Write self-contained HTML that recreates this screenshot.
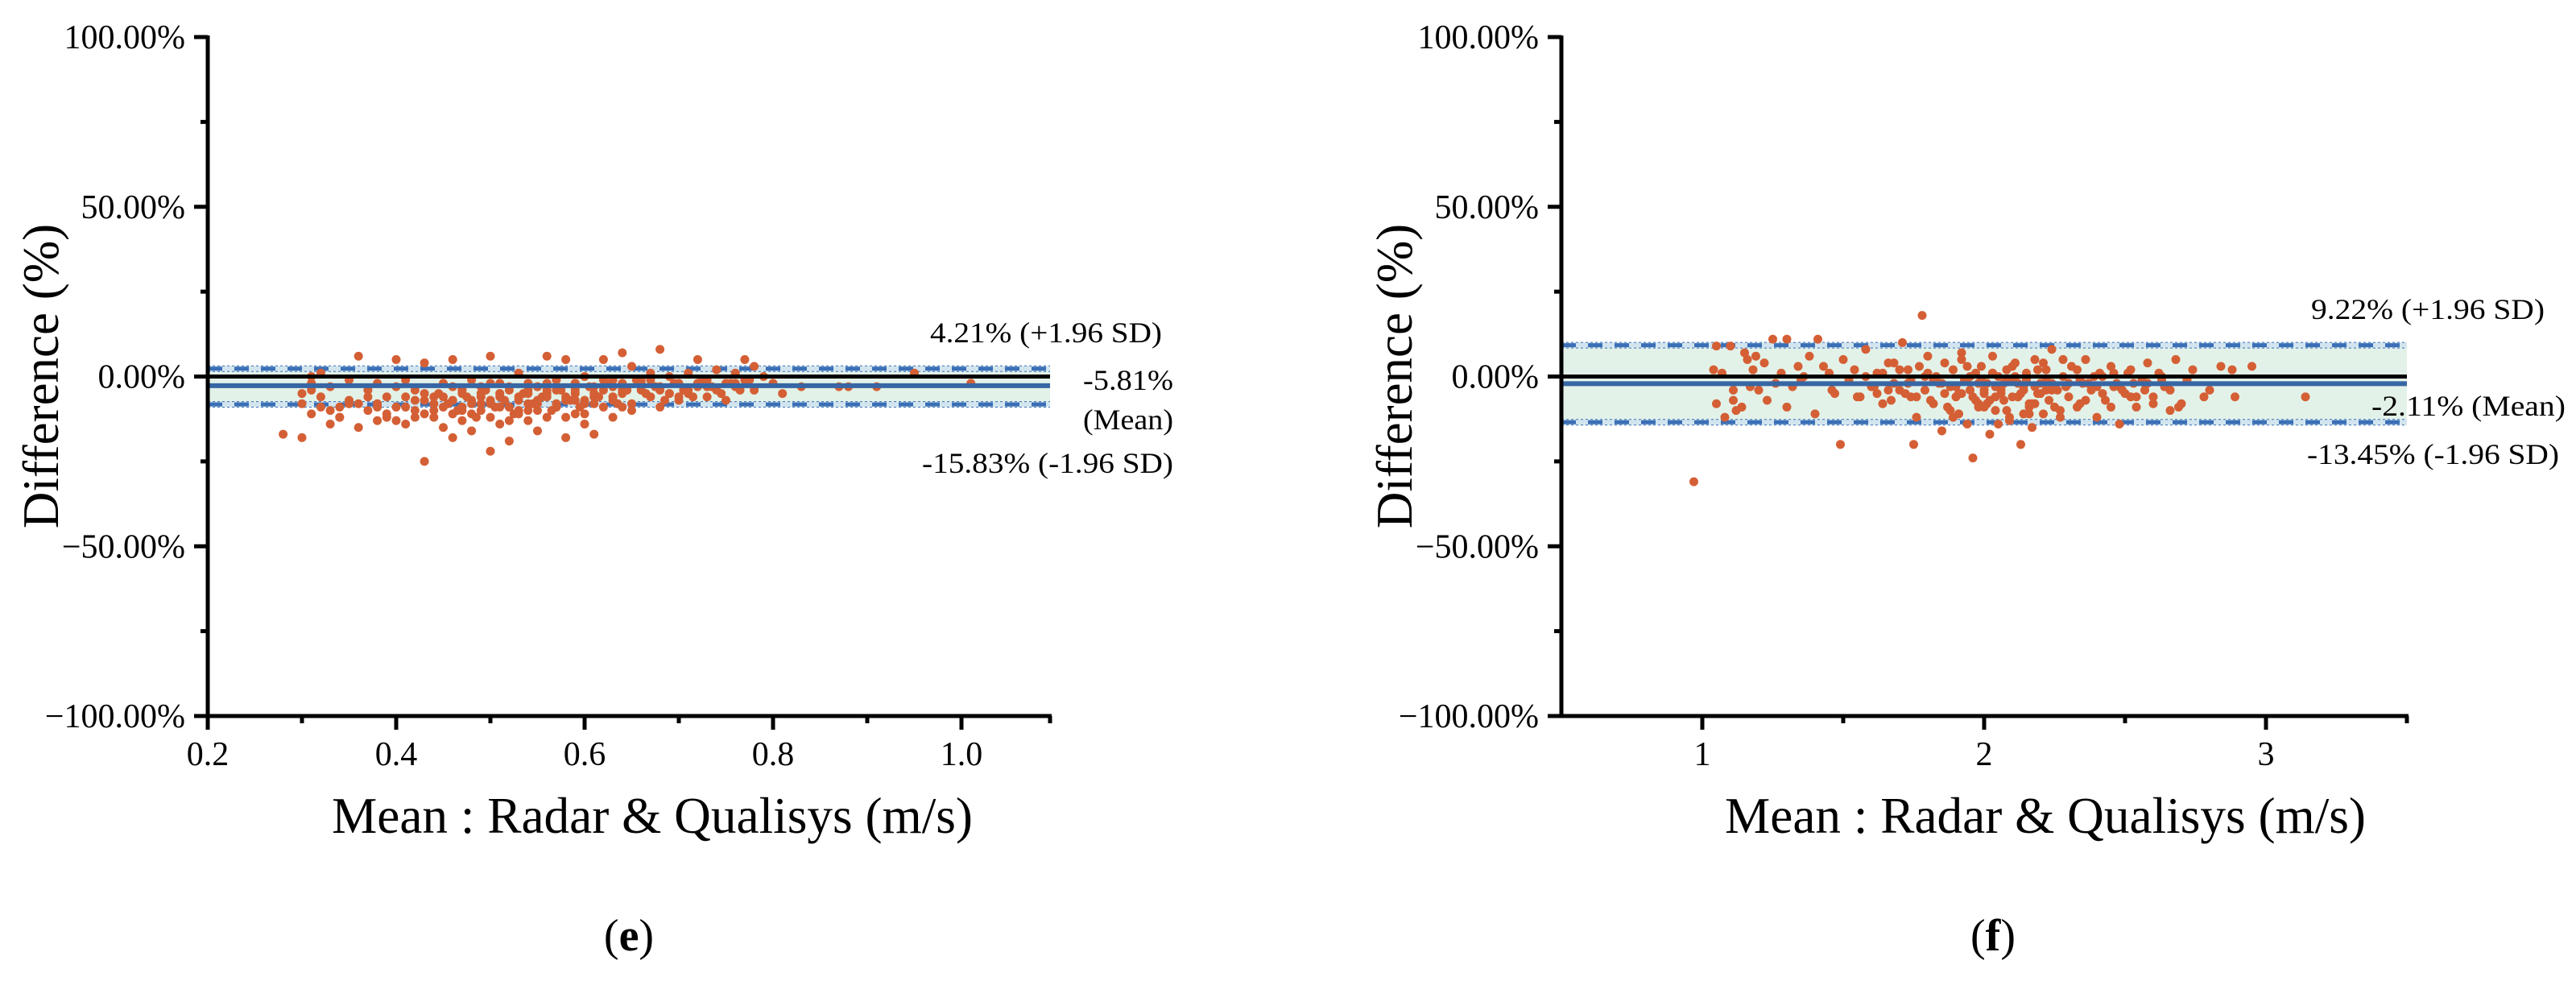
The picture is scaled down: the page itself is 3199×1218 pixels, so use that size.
<!DOCTYPE html>
<html><head><meta charset="utf-8"><style>
html,body{margin:0;padding:0;background:#fff;}
svg{display:block;font-family:"Liberation Serif",serif;}
</style></head><body>
<svg id="fig" width="3199" height="1218" viewBox="0 0 3199 1218" xmlns="http://www.w3.org/2000/svg">
<rect width="3199" height="1218" fill="#fff"/>
<g id="panelE"></g>
<g id="panelF"></g>
</svg>
<script>
// ---- Panel (e) data ----
const eX = [0.28,0.30,0.30,0.30,0.31,0.31,0.31,0.32,0.32,0.33,0.33,0.34,0.34,0.35,0.35,0.36,0.36,0.37,0.37,0.38,0.38,0.39,0.39,0.40,0.40,0.40,0.41,0.41,0.42,0.42,0.43,0.43,0.43,0.44,0.44,0.45,0.45,0.45,0.46,0.46,0.46,0.47,0.47,0.47,0.48,0.48,0.48,0.49,0.49,0.49,0.50,0.50,0.50,0.50,0.51,0.51,0.51,0.52,0.52,0.52,0.53,0.53,0.53,0.54,0.54,0.54,0.55,0.55,0.55,0.56,0.56,0.56,0.57,0.57,0.57,0.58,0.58,0.58,0.59,0.59,0.59,0.60,0.60,0.60,0.61,0.61,0.61,0.62,0.62,0.62,0.63,0.63,0.63,0.64,0.64,0.64,0.65,0.65,0.65,0.66,0.66,0.67,0.67,0.68,0.68,0.68,0.69,0.69,0.70,0.70,0.71,0.71,0.72,0.72,0.73,0.73,0.74,0.74,0.75,0.75,0.76,0.76,0.77,0.77,0.78,0.78,0.79,0.80,0.81,0.83,0.87,0.88,0.91,0.95,1.01,
0.44,0.46,0.47,0.48,0.49,0.50,0.51,0.52,0.53,0.54,0.55,0.56,0.57,0.58,0.59,0.60,0.61,0.62,0.63,0.64,0.45,0.47,0.49,0.51,0.53,0.55,0.57,0.59,0.61,0.63,0.66,0.69,0.72,0.35,0.38,0.41,0.42,0.52,0.54,0.56,
0.31,0.33,0.36,0.39,0.41,0.43,0.445,0.455,0.465,0.475,0.485,0.495,0.505,0.515,0.525,0.535,0.545,0.555,0.565,0.575,0.585,0.595,0.605,0.615,0.625,0.635,0.645,0.655,0.665,0.675,0.685,0.695,0.705,0.715,0.725,0.735,0.745,0.755,0.765,0.775,
0.34,0.37,0.40,0.42,0.44,0.46,0.48,0.50,0.52,0.54,0.56,0.58,0.60,0.62,0.64,0.66,0.68,0.70,0.73,0.76,0.32,0.38,0.43,0.47,0.51,0.55,0.59,0.63,0.67,0.71];
const eY = [-17,-18,-5,-8,-11,0,-2,1,-6,-14,-3,-9,-12,-1,-7,-15,6,-4,-10,-2,-13,-6,-11,-3,5,-9,-14,-1,-7,-12,-5,4,-25,-10,-8,-2,-15,-6,-11,-18,5,-4,-9,-13,-7,-1,-16,-5,-10,-3,-12,-22,6,-8,-6,-14,-2,-9,-4,-19,-7,-11,1,-5,-13,-8,-3,-10,-16,-6,6,-12,-4,-9,-1,-7,-18,5,-5,-11,-2,-8,-14,0,-6,-3,-17,-9,5,-4,-7,-1,-12,-5,7,-2,-8,3,-10,-4,-1,-6,1,-3,8,-9,-5,0,-2,-7,-4,1,5,-3,-6,-1,2,-4,-2,-7,1,-3,5,-1,3,-4,0,-2,-5,-3,-3,-3,-3,1,-2,
-6,-7,-5,-8,-6,-7,-5,-9,-6,-4,-7,-5,-8,-6,-4,-7,-5,-3,-6,-4,-9,-10,-8,-9,-10,-8,-9,-7,-8,-6,-3,-5,-2,-8,-9,-6,-10,-3,-2,-4,
-4,-10,-8,-12,-9,-11,-5,-8,-10,-6,-12,-4,-9,-7,-11,-5,-8,-6,-10,-4,-7,-9,-3,-6,-2,-8,-4,-1,-5,-3,-7,-2,-4,-6,-1,-3,-5,-2,-4,-1,
-12,-6,-13,-4,-12,-3,-11,-2,-13,-10,-2,-12,-11,-1,-9,-2,-4,-6,-3,-2,-9,-8,-7,-4,-5,-3,-2,-3,-1,-5];
const eTicksX = [0.2,0.4,0.6,0.8,1.0];
const eTickLabelsX = ["0.2","0.4","0.6","0.8","1.0"];
const eLimits = [2.3, -2.7, -8.2]; // plotted upper, mean, lower lines
const eLabels = ["4.21% (+1.96 SD)","-5.81%","(Mean)","-15.83% (-1.96 SD)"];

// ---- Panel (f) data ----
const fX = [0.97,1.04,1.05,1.05,1.07,1.08,1.10,1.11,1.11,1.12,1.14,1.16,1.17,1.18,1.19,1.20,1.22,1.25,1.26,1.28,1.30,1.30,1.32,1.34,1.36,1.38,1.40,1.41,1.43,1.45,1.46,1.49,1.50,1.52,1.54,1.56,1.58,1.60,1.62,1.64,1.66,1.68,1.70,1.71,1.72,1.74,1.75,1.76,1.77,1.78,1.79,1.80,1.81,1.83,1.84,1.85,1.86,1.87,1.88,1.89,1.90,1.91,1.92,1.93,1.94,1.95,1.96,1.97,1.98,1.99,2.00,2.01,2.02,2.03,2.04,2.05,2.06,2.07,2.08,2.09,2.10,2.11,2.12,2.13,2.14,2.15,2.16,2.17,2.18,2.19,2.20,2.21,2.22,2.23,2.24,2.25,2.27,2.28,2.30,2.31,2.33,2.34,2.36,2.38,2.40,2.41,2.43,2.45,2.47,2.48,2.50,2.52,2.54,2.56,2.58,2.60,2.62,2.64,2.66,2.68,2.70,2.72,2.74,2.78,2.80,2.84,2.88,2.89,2.95,3.14,
1.90,1.92,1.94,1.96,1.98,2.00,2.02,2.04,2.06,2.08,2.10,2.12,2.14,2.16,2.18,2.20,2.22,2.24,2.26,2.29,1.95,1.99,2.03,2.07,2.11,2.15,2.19,2.23,2.35,2.42,1.62,1.66,1.73,1.82,2.46,2.53,2.57,2.63,
1.55,1.58,1.61,1.64,1.67,1.70,1.73,1.76,1.79,1.82,1.85,1.88,1.91,1.94,1.97,2.00,2.03,2.06,2.09,2.12,2.15,2.18,2.21,2.24,2.27,2.30,2.33,2.36,2.39,2.42,2.45,2.48,2.51,2.54,2.57,2.60,2.63,2.66,2.69,2.72,
1.68,1.74,1.80,1.86,1.92,1.98,2.04,2.10,2.16,2.22,2.28,2.34,2.40,2.46,2.52,2.58,1.89,2.01,2.13,2.25,2.37,2.49,1.15,1.23,1.35,1.47,2.05,2.17,2.08,2.14];
const fY = [-31,2,-8,9,1,-12,9,-7,-4,-10,-9,5,-3,2,6,-4,4,11,-2,1,11,-9,-3,3,0,6,-11,11,3,1,-4,-20,5,-1,2,-6,8,-3,1,-8,4,-2,2,10,-5,-1,-20,-12,3,18,-4,6,-7,0,-2,-16,4,-9,-3,2,-6,-11,5,-1,-14,-4,-24,1,-8,3,-5,-2,-17,6,-10,0,-4,-7,2,-13,-1,4,-6,-20,-3,1,-9,-15,5,-5,-2,-11,2,-7,8,-3,-12,0,-6,3,-9,-1,5,-4,-12,1,-7,3,-2,-14,-5,2,-9,-1,4,-6,1,-3,-10,5,-8,-1,2,-6,-4,3,2,-6,3,-6,
-3,-5,-1,-6,-2,-4,-7,-3,-5,-1,-6,-2,-4,-8,-3,-5,-1,-2,-4,-3,0,-1,1,-2,0,-1,2,-3,-2,0,-5,-4,-2,-1,-3,-2,-4,-1,
-6,0,-3,1,-7,-4,2,-6,0,-8,-2,-10,-5,3,-7,-9,1,-3,-12,-6,-1,-8,4,-4,-10,-2,2,-7,0,-5,-9,-3,1,-6,-2,-8,0,-4,-9,-1,
4,-6,1,-5,7,-9,-6,3,-11,-4,5,-8,-3,1,-6,-2,-12,-8,-5,-9,-2,-4,7,-7,-1,-5,-14,-8,-10,-11];
const fTicksX = [1,2,3];
const fTickLabelsX = ["1","2","3"];
const fLimits = [9.22, -2.11, -13.45];
const fLabels = ["9.22% (+1.96 SD)","-2.11% (Mean)","-13.45% (-1.96 SD)"];

const yTicks = [100,50,0,-50,-100];
const yTickLabels = ["100.00%","50.00%","0.00%","\u221250.00%","\u2212100.00%"];
const yMinor = [75,25,-25,-75];

const NS = "http://www.w3.org/2000/svg";
function mk(parent, tag, attrs){
  const el = document.createElementNS(NS, tag);
  for (const k in attrs) el.setAttribute(k, attrs[k]);
  parent.appendChild(el);
  return el;
}
const yS = p => 467.5 - p * 4.215;

function panel(g, cfg){
  const {x0, x1, xs, X, Y, ticks, tickLabels, minors, limits} = cfg;
  const yu = yS(limits[0]), yl = yS(limits[2]);
  const band = mk(g,'rect',{x:x0,y:yu-3.5,width:x1-x0,height:yl-yu+7,fill:'#e3f2e8'});
  
  
  [yu,yl].forEach((yy,i)=>{
    const s = mk(g,'rect',{x:x0,y:yy-3.5,width:x1-x0,height:7,fill:'#d2e5ef'});
    
    
    mk(g,'line',{x1:x0,x2:x1,y1:yy-3.5,y2:yy-3.5,stroke:'#3b6fb6','stroke-width':1,'stroke-dasharray':'3 3'});
    mk(g,'line',{x1:x0,x2:x1,y1:yy+3.5,y2:yy+3.5,stroke:'#3b6fb6','stroke-width':1,'stroke-dasharray':'3 3'});
    const l = mk(g,'line',{x1:x0,x2:x1,y1:yy,y2:yy,stroke:'#3b6fb6','stroke-width':5,'stroke-dasharray':'18 15'});
    
    
  });
  for (let i=0;i<X.length;i++){
    const c = mk(g,'circle',{cx:xs(X[i]),cy:yS(Y[i]),r:5.5,fill:'#d45f35'});
    
    
  }
  const z = mk(g,'line',{x1:x0,x2:x1,y1:yS(0),y2:yS(0),stroke:'#000','stroke-width':5});
  
  
  const m = mk(g,'line',{x1:x0,x2:x1,y1:yS(limits[1]),y2:yS(limits[1]),stroke:'#3766a4','stroke-width':6});
  
  
  const ya = mk(g,'line',{x1:x0,x2:x0,y1:44,y2:891,stroke:'#000','stroke-width':5});
  
  
  const xa = mk(g,'line',{x1:x0-2,x2:x1+2,y1:889,y2:889,stroke:'#000','stroke-width':5});
  
  
  yTicks.forEach((v,i)=>{
    mk(g,'line',{x1:x0-17,x2:x0,y1:yS(v),y2:yS(v),stroke:'#000','stroke-width':5});
    const t = mk(g,'text',{x:x0-28,y:yS(v)+14,'font-size':42,'text-anchor':'end',fill:'#000'});
    t.textContent = yTickLabels[i];
    
    
  });
  yMinor.forEach(v=>mk(g,'line',{x1:x0-9,x2:x0,y1:yS(v),y2:yS(v),stroke:'#000','stroke-width':5}));
  minors.forEach(v=>mk(g,'line',{x1:xs(v),x2:xs(v),y1:889,y2:898,stroke:'#000','stroke-width':5}));
  ticks.forEach((v,i)=>{
    mk(g,'line',{x1:xs(v),x2:xs(v),y1:889,y2:906,stroke:'#000','stroke-width':5});
    const t = mk(g,'text',{x:xs(v),y:950,'font-size':42,'text-anchor':'middle',fill:'#000'});
    t.textContent = tickLabels[i];
    
    
  });
  mk(g,'line',{x1:x1,x2:x1,y1:889,y2:898,stroke:'#000','stroke-width':5});
  const yt = mk(g,'text',{x:0,y:0,'font-size':63,'text-anchor':'middle',fill:'#000',transform:`translate(${x0-186},467) rotate(-90)`});
  yt.textContent = 'Difference (%)';
  
  
  const xt = mk(g,'text',{x:cfg.xTitleX,y:1034,'font-size':64,'text-anchor':'middle',fill:'#000',textLength:796,lengthAdjust:'spacingAndGlyphs'});
  xt.textContent = 'Mean : Radar & Qualisys (m/s)';
  
  
  const sub = mk(g,'text',{x:cfg.subX,y:1180,'font-size':56,'text-anchor':'middle',fill:'#000'});
  sub.innerHTML = '(<tspan font-weight="bold">'+cfg.sub+'</tspan>)';
  
  
}

const xE = v => 258 + (v - 0.2) * 1170;
const xF = v => 1939 + (v - 0.5) * 350;
const gE = document.getElementById('panelE');
const gF = document.getElementById('panelF');
panel(gE,{x0:258,x1:1304,xs:xE,X:eX,Y:eY,ticks:eTicksX,tickLabels:eTickLabelsX,
  minors:[0.3,0.5,0.7,0.9],limits:eLimits,xTitleX:810,subX:781,sub:'e'});
panel(gF,{x0:1939,x1:2989,xs:xF,X:fX,Y:fY,ticks:fTicksX,tickLabels:fTickLabelsX,
  minors:[1.5,2.5],limits:fLimits,xTitleX:2540,subX:2475,sub:'f'});

function ann(g, txt, x, y, w, name){
  const t = mk(g,'text',{x:x,y:y,'font-size':36,fill:'#000',textLength:w,lengthAdjust:'spacingAndGlyphs'});
  t.textContent = txt;
  
  
}
ann(gE, eLabels[0], 1155, 425, 288, 'upper-limit-label');
ann(gE, eLabels[1], 1345, 484, 112, 'mean-label');
ann(gE, eLabels[2], 1345, 533, 112, 'mean-label-suffix');
ann(gE, eLabels[3], 1145, 587, 312, 'lower-limit-label');
ann(gF, fLabels[0], 2870, 396, 290, 'upper-limit-label');
ann(gF, fLabels[1], 2945, 516, 241, 'mean-label');
ann(gF, fLabels[2], 2865, 576, 313, 'lower-limit-label');
</script>
</body></html>
